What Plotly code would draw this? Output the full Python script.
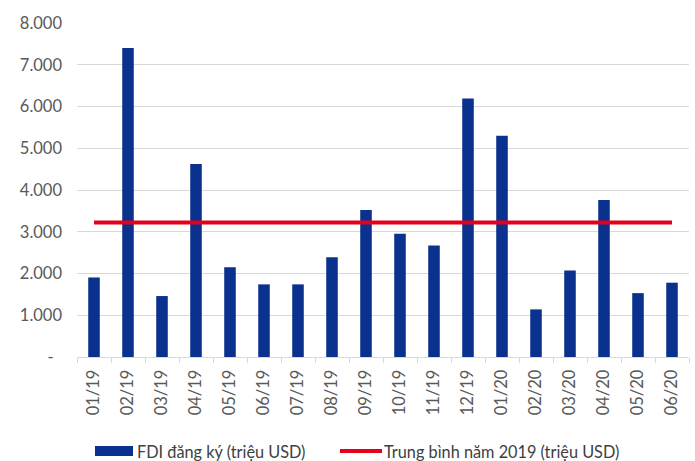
import plotly.graph_objects as go

# Monthly registered FDI, millions USD
months = ["01/19", "02/19", "03/19", "04/19", "05/19", "06/19", "07/19", "08/19", "09/19",
          "10/19", "11/19", "12/19", "01/20", "02/20", "03/20", "04/20", "05/20", "06/20"]
fdi = [1905, 7400, 1460, 4620, 2150, 1740, 1740, 2390, 3520,
       2950, 2670, 6190, 5300, 1140, 2070, 3760, 1530, 1780]
avg_2019 = [3220] * len(months)

y_ticks = [0, 1000, 2000, 3000, 4000, 5000, 6000, 7000, 8000]
y_labels = ["-\u00a0\u00a0", "1.000", "2.000", "3.000", "4.000", "5.000", "6.000", "7.000", "8.000"]

BAR_COLOR = "#0B318F"
LINE_COLOR = "#E5001B"
TEXT_COLOR = "#595959"
FONT = "Lato, Open Sans, sans-serif"

fig = go.Figure()
fig.add_trace(go.Bar(
    x=months, y=fdi, name="FDI đăng ký (triệu USD)",
    marker=dict(color=BAR_COLOR, line=dict(width=0)),
    showlegend=False,
))
fig.add_trace(go.Scatter(
    x=months, y=avg_2019, mode="lines", name="Trung bình năm 2019 (triệu USD)",
    line=dict(color=LINE_COLOR, width=4),
    showlegend=False,
))

W, H = 695, 461
pl, pr, pt, pb = 77, 6, 23, 104

fig.update_layout(
    width=W, height=H,
    margin=dict(l=pl, r=pr, t=pt, b=pb),
    paper_bgcolor="white", plot_bgcolor="white",
    bargap=0.66,
    font=dict(family=FONT, color=TEXT_COLOR, size=16),
    xaxis=dict(
        type="category",
        tickangle=-90,
        tickfont=dict(size=16.5, color=TEXT_COLOR),
        showline=True, linecolor="#D9D9D9", linewidth=1,
        ticks="outside", tickson="boundaries", ticklen=5, tickcolor="#D9D9D9",
        ticklabelstandoff=5,
        showgrid=False,
    ),
    yaxis=dict(
        range=[0, 8000],
        tickvals=y_ticks, ticktext=y_labels,
        tickfont=dict(size=16.5, color=TEXT_COLOR),
        showgrid=True, gridcolor="#D9D9D9", gridwidth=1,
        zeroline=False, showline=False, ticks="",
        ticklabelstandoff=14,
    ),
)

# Legend below the axis labels, placed in pixel terms through paper coords
pw, ph = W - pl - pr, H - pt - pb


def px_x(x):
    return (x - pl) / pw


def px_y(y):
    return (H - pb - y) / ph


legend_y = 451
fig.add_shape(type="rect", xref="paper", yref="paper",
              x0=px_x(95), x1=px_x(133), y0=px_y(legend_y + 5), y1=px_y(legend_y - 5),
              fillcolor=BAR_COLOR, line=dict(width=0))
fig.add_shape(type="line", xref="paper", yref="paper",
              x0=px_x(340), x1=px_x(382), y0=px_y(legend_y), y1=px_y(legend_y),
              line=dict(color=LINE_COLOR, width=4))
fig.add_annotation(xref="paper", yref="paper", x=px_x(135), y=px_y(legend_y),
                   text="FDI đăng ký (triệu USD)", showarrow=False,
                   xanchor="left", yanchor="middle",
                   font=dict(family=FONT, size=16.3, color="#404040"))
fig.add_annotation(xref="paper", yref="paper", x=px_x(382), y=px_y(legend_y),
                   text="Trung bình năm 2019 (triệu USD)", showarrow=False,
                   xanchor="left", yanchor="middle",
                   font=dict(family=FONT, size=16.3, color="#404040"))

fig.write_html("out.html")
